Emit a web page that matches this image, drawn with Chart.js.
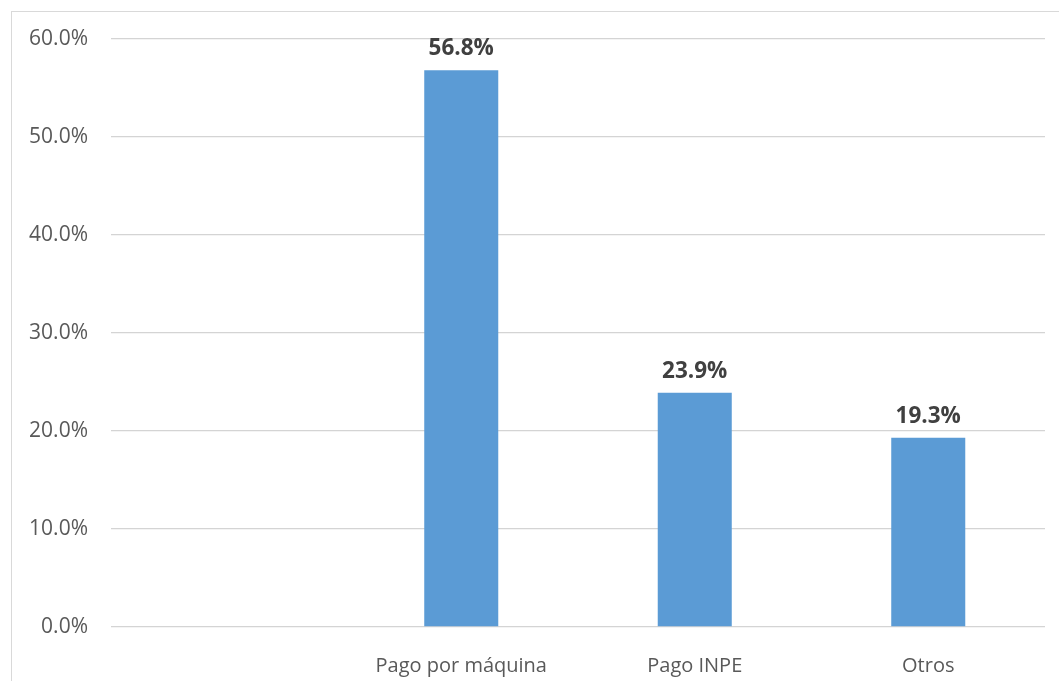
<!DOCTYPE html>
<html>
<head>
<meta charset="utf-8">
<script src="https://cdn.jsdelivr.net/npm/chart.js@4/dist/chart.umd.min.js"></script>
<style>
  html, body { margin: 0; padding: 0; background: #ffffff; overflow: hidden; }
  #wrap { position: relative; width: 1059px; height: 681px; overflow: hidden; }
  #frame { position: absolute; left: 11px; top: 11px; width: 1100px; height: 720px;
           border: 1px solid #D9D9D9; box-sizing: border-box; pointer-events: none; }
  canvas { position: absolute; left: 0; top: 0; }
</style>
</head>
<body>
<div id="wrap">
  <canvas id="c" width="1059" height="681"></canvas>
  <div id="frame"></div>
</div>
<script>
const categories = ["", "Pago por máquina", "Pago INPE", "Otros"];
const values = [null, 56.8, 23.9, 19.3];
const yTicks = [0, 10, 20, 30, 40, 50, 60];

const FONT = "'Open Sans', 'Noto Sans', sans-serif";

const valueLabels = {
  id: 'valueLabels',
  afterDatasetsDraw(chart) {
    const ctx = chart.ctx;
    const meta = chart.getDatasetMeta(0);
    ctx.save();
    ctx.font = "bold 22.5px " + FONT;
    ctx.fillStyle = '#404040';
    ctx.textAlign = 'center';
    ctx.textBaseline = 'alphabetic';
    meta.data.forEach((bar, i) => {
      const v = values[i];
      if (v === null || v === undefined) return;
      ctx.fillText(v.toFixed(1) + '%', bar.x, bar.y - 15);
    });
    ctx.restore();
  }
};

new Chart(document.getElementById('c'), {
  type: 'bar',
  data: {
    labels: categories,
    datasets: [{
      data: values,
      backgroundColor: '#5B9BD5',
      borderWidth: 0,
      categoryPercentage: 1.0,
      barPercentage: 0.317
    }]
  },
  options: {
    responsive: false,
    animation: false,
    devicePixelRatio: 1,
    layout: { padding: { top: 39, left: 0, right: 14, bottom: 0 } },
    plugins: { legend: { display: false }, tooltip: { enabled: false } },
    scales: {
      x: {
        grid: { display: false },
        border: { display: false },
        ticks: {
          color: '#595959',
          font: { family: FONT, size: 20 },
          padding: 19,
          maxRotation: 0,
          autoSkip: false
        },
        afterFit(scale) { scale.height = 54; }
      },
      y: {
        min: 0,
        max: 60,
        afterBuildTicks(scale) { scale.ticks = yTicks.map(v => ({ value: v })); },
        grid: { color: '#D4D4D4', lineWidth: 1.3, drawTicks: false },
        border: { display: false },
        ticks: {
          color: '#595959',
          font: { family: FONT, size: 21 },
          padding: 23,
          callback: v => Number(v).toFixed(1) + '%'
        },
        afterFit(scale) { scale.width = 111; }
      }
    }
  },
  plugins: [valueLabels]
});
</script>
</body>
</html>
